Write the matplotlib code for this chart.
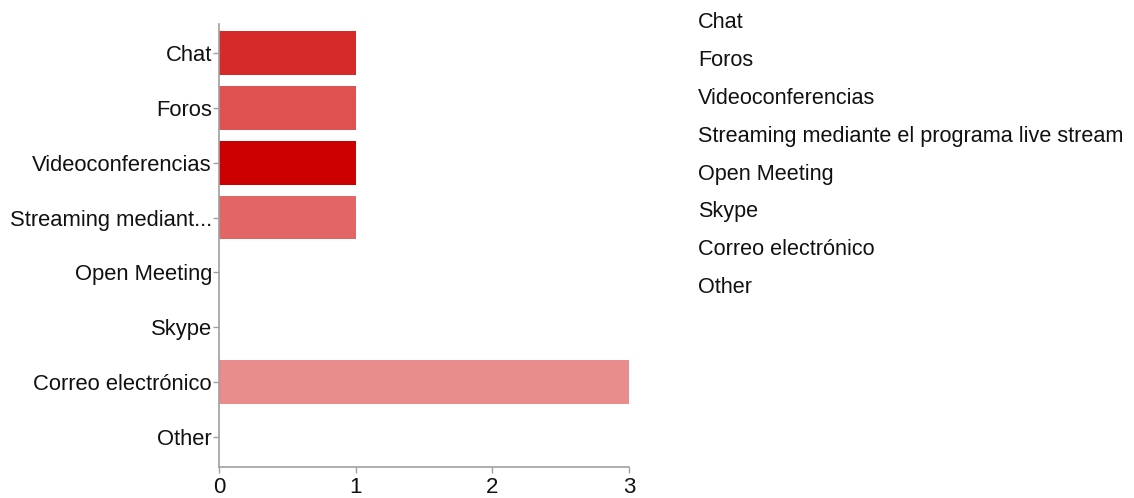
import matplotlib
matplotlib.use("Agg")
import matplotlib.pyplot as plt

# survey answers (count of respondents per tool)
categories = ["Chat", "Foros", "Videoconferencias", "Streaming mediante el programa live stream",
              "Open Meeting", "Skype", "Correo electrónico", "Other"]
tick_labels = ["Chat", "Foros", "Videoconferencias", "Streaming mediant...",
               "Open Meeting", "Skype", "Correo electrónico", "Other"]
counts = [1, 1, 1, 1, 0, 0, 3, 0]
bar_colors = ["#d62a2a", "#e05252", "#cc0000", "#e26666",
              "#e58080", "#e88a8a", "#e98c8c", "#eb9999"]
x_ticks = [0, 1, 2, 3]

plt.rcParams["font.family"] = ["Liberation Sans", "DejaVu Sans"]
axis_gray = "#a0a0a0"
text_color = "#111111"

fig = plt.figure(figsize=(11.34, 4.98), dpi=100)
ax = fig.add_axes([0.1931, 0.0622, 0.3616, 0.8896])

pos = list(range(len(categories)))
ax.barh(pos, counts, height=0.8, color=bar_colors, edgecolor="none")

ax.set_ylim(len(categories) - 1 + 0.55, -0.53)
ax.set_xlim(0, 3)
ax.set_yticks(pos)
ax.set_yticklabels(tick_labels)
ax.set_xticks(x_ticks)
ax.set_xticklabels([str(t) for t in x_ticks])

for side in ["top", "right"]:
    ax.spines[side].set_visible(False)
for side in ["left", "bottom"]:
    ax.spines[side].set_color(axis_gray)
    ax.spines[side].set_linewidth(1.2)
ax.tick_params(axis="both", colors=axis_gray, labelcolor=text_color, length=4, width=1)
ax.tick_params(axis="y", labelsize=15.8, pad=1)
ax.tick_params(axis="x", labelsize=16, pad=3)

# text-only legend on the right
for i, name in enumerate(categories):
    y = 1 - (23 + i * 37.8) / 498
    fig.text(0.6155, y, name, fontsize=15.6, color=text_color, va="center", ha="left")

fig.savefig("out.png", dpi=100)
